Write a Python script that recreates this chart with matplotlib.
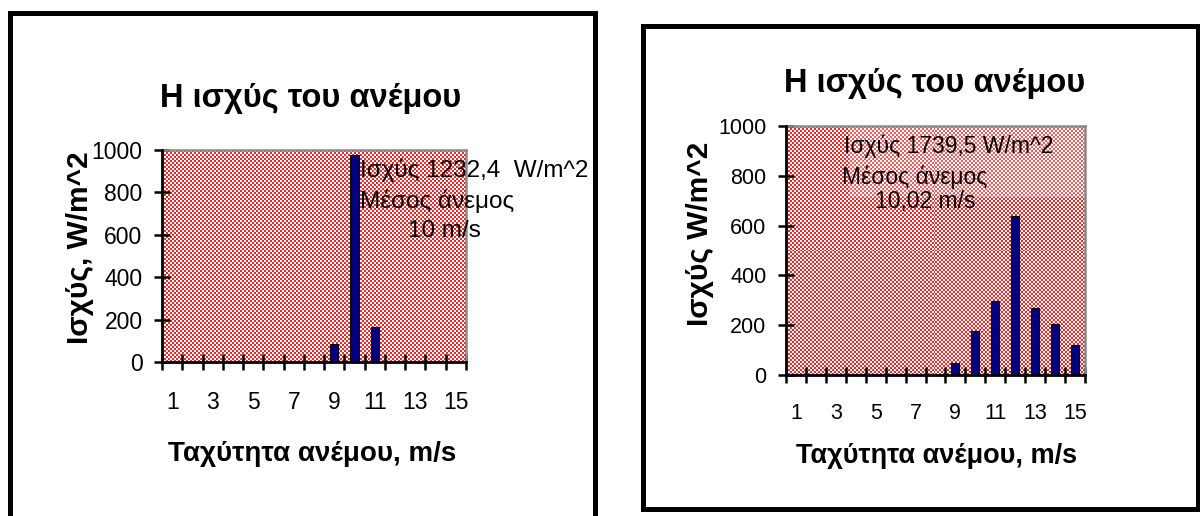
import numpy as np
import matplotlib
matplotlib.use("Agg")
import matplotlib.pyplot as plt
from matplotlib.patches import Rectangle

# ---- data ----
speeds = list(range(1, 16))
tick_labels = ["1", "3", "5", "7", "9", "11", "13", "15"]
power_left = [0, 0, 0, 0, 0, 0, 0, 0, 83, 976, 164, 0, 0, 0, 0]
power_right = [0, 0, 0, 0, 0, 0, 0, 0, 47, 178, 299, 640, 271, 205, 119]
yticks = [0, 200, 400, 600, 800, 1000]
title = "Η ισχύς του ανέμου"
xlabel = "Ταχύτητα ανέμου, m/s"
ylabel_left = "Ισχύς, W/m^2"
ylabel_right = "Ισχύς W/m^2"
ann_left = ["Ισχύς 1232,4  W/m^2", "Μέσος άνεμος", "10 m/s"]
ann_right = ["Ισχύς 1739,5 W/m^2", "Μέσος άνεμος", "10,02 m/s"]

W, H = 1200, 516
plt.rcParams['font.family'] = ['Liberation Sans', 'DejaVu Sans']
fig = plt.figure(figsize=(W / 100, H / 100), dpi=100)
fig.patch.set_facecolor('white')


def fx(x):
    return x / W


def fy(y):
    return (H - y) / H


def axes_rect(x0, y0, x1, y1):
    return [fx(x0), fy(y1), fx(x1) - fx(x0), fy(y0) - fy(y1)]


# outer frames
fig.add_artist(Rectangle((fx(9.5), fy(530)), fx(595) - fx(9.5), fy(12.5) - fy(530),
                         transform=fig.transFigure, fill=False, edgecolor='black', lw=3.6))
fig.add_artist(Rectangle((fx(643), fy(509)), fx(1197.5) - fx(643), fy(25.5) - fy(509),
                         transform=fig.transFigure, fill=False, edgecolor='black', lw=3.6))


def checker(ax, nx, ny):
    yy, xx = np.mgrid[0:ny, 0:nx]
    m = (xx + yy) % 2
    c1 = np.array([232, 42, 42]) / 255
    c2 = np.array([255, 250, 250]) / 255
    img = np.where(m[..., None] == 1, c1, c2)
    ax.imshow(img, extent=[0, 1, 0, 1], transform=ax.transAxes, aspect='auto',
              interpolation='nearest', zorder=0)


def make_panel(rect, values, tick_fs, pad, cells):
    ax = fig.add_axes(rect)
    ax.set_facecolor('#e88080')
    checker(ax, *cells)
    ax.bar(speeds, values, width=0.4, color='#000080', edgecolor='black', lw=0.8, zorder=3)
    ax.set_xlim(0.5, 15.5)
    ax.set_ylim(0, 1000)
    ax.set_yticks(yticks)
    ax.set_yticklabels([str(v) for v in yticks], fontsize=tick_fs)
    ax.set_xticks(np.arange(0.5, 16, 1))
    ax.set_xticklabels([])
    ax.set_xticks([int(t) for t in tick_labels], minor=True)
    ax.set_xticklabels(tick_labels, minor=True, fontsize=tick_fs)
    ax.tick_params(axis='x', which='major', direction='inout', length=11, width=1.8, color='black')
    ax.tick_params(axis='x', which='minor', length=0, pad=pad)
    ax.tick_params(axis='y', direction='inout', length=12, width=1.8, pad=8)
    for s in ['left', 'bottom']:
        ax.spines[s].set_color('black')
        ax.spines[s].set_linewidth(2)
        ax.spines[s].set_zorder(5)
    for s in ['top', 'right']:
        ax.spines[s].set_color('#8a8a8a')
        ax.spines[s].set_linewidth(1.8)
    return ax


axL = make_panel(axes_rect(162, 150, 466, 362), power_left, 16.5, 21, (152, 106))
axR = make_panel(axes_rect(786, 126, 1085, 375), power_right, 15.5, 20, (150, 125))
axR.add_patch(Rectangle((0.21, 0.715), 0.79, 0.285, transform=axR.transAxes,
                        facecolor='white', alpha=0.25, edgecolor='none', zorder=1))

# titles
fig.text(fx(311), fy(107), title, fontsize=23.5, fontweight='bold', ha='center', va='baseline')
fig.text(fx(935), fy(92), title, fontsize=23.5, fontweight='bold', ha='center', va='baseline')
# x labels
fig.text(fx(312), fy(461), xlabel, fontsize=20, fontweight='bold', ha='center', va='baseline')
fig.text(fx(937), fy(463), xlabel, fontsize=19.5, fontweight='bold', ha='center', va='baseline')
# y labels
fig.text(fx(80), fy(248), ylabel_left, fontsize=21.5, fontweight='bold', ha='center', va='center', rotation=90)
fig.text(fx(700), fy(234), ylabel_right, fontsize=21.5, fontweight='bold', ha='center', va='center', rotation=90)

# annotations
for (x, y), s in zip([(360, 177), (360, 208), (408, 237)], ann_left):
    fig.text(fx(x), fy(y), s, fontsize=17.5, ha='left', va='baseline', color='black', zorder=10)
for (x, y), s in zip([(844, 153), (842, 184), (875, 208)], ann_right):
    fig.text(fx(x), fy(y), s, fontsize=16.5, ha='left', va='baseline', color='black', zorder=10)

fig.savefig('out.png', dpi=100)
